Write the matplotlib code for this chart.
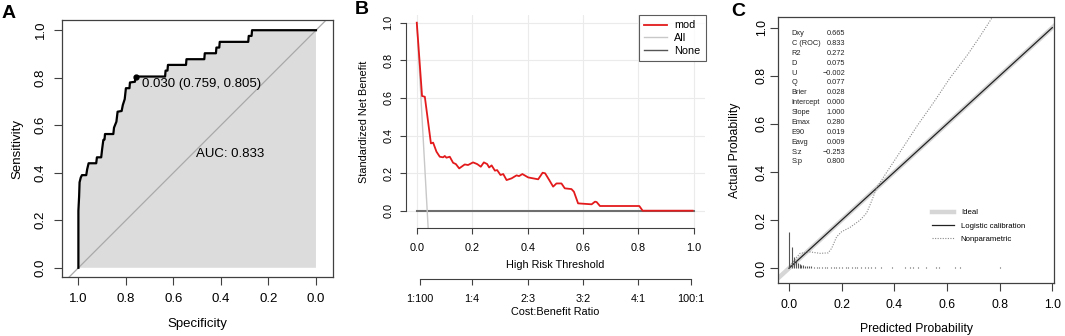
import numpy as np
import matplotlib.pyplot as plt
from matplotlib.lines import Line2D

plt.rcParams['font.family'] = ['Liberation Sans', 'DejaVu Sans']

## Panel A: ROC curve (vertices of the step curve)
roc_spec = [1.0, 1.0, 0.997, 0.995, 0.99, 0.985, 0.967, 0.963, 0.957, 0.925, 0.922, 0.904,
            0.9, 0.895, 0.89, 0.888, 0.853, 0.85, 0.84, 0.835, 0.818, 0.813, 0.805, 0.80,
            0.785, 0.783, 0.762, 0.759, 0.635, 0.633, 0.625, 0.623, 0.547, 0.545, 0.47,
            0.468, 0.421, 0.419, 0.407, 0.405, 0.285, 0.283, 0.271, 0.269, 0.0]
roc_sens = [0.0, 0.24, 0.30, 0.36, 0.38, 0.39, 0.39, 0.415, 0.44, 0.44, 0.465, 0.465,
            0.50, 0.538, 0.54, 0.563, 0.563, 0.59, 0.615, 0.657, 0.66, 0.685, 0.71, 0.756,
            0.756, 0.78, 0.783, 0.805, 0.805, 0.83, 0.83, 0.854, 0.854, 0.878, 0.878,
            0.903, 0.903, 0.927, 0.927, 0.951, 0.951, 0.976, 0.976, 1.0, 1.0]
best_thr, best_spec, best_sens = 0.030, 0.759, 0.805
auc = 0.833

## Panel B: decision curve
dca_thr = [0.0, 0.019, 0.029, 0.051, 0.059, 0.071, 0.083, 0.095, 0.101, 0.107, 0.119,
           0.131, 0.141, 0.153, 0.173, 0.185, 0.203, 0.218, 0.231, 0.242, 0.254, 0.261,
           0.27, 0.282, 0.29, 0.302, 0.312, 0.324, 0.342, 0.36, 0.369, 0.381, 0.402,
           0.438, 0.454, 0.463, 0.478, 0.492, 0.504, 0.522, 0.534, 0.558, 0.567, 0.582,
           0.631, 0.643, 0.649, 0.661, 0.803, 0.815, 0.995]
dca_mod = [1.0, 0.61, 0.606, 0.358, 0.362, 0.314, 0.287, 0.284, 0.291, 0.282, 0.287,
           0.255, 0.248, 0.225, 0.246, 0.243, 0.257, 0.248, 0.234, 0.257, 0.248, 0.230,
           0.241, 0.213, 0.216, 0.19, 0.195, 0.163, 0.172, 0.188, 0.184, 0.195, 0.177,
           0.167, 0.202, 0.199, 0.163, 0.128, 0.145, 0.145, 0.119, 0.115, 0.101, 0.039,
           0.034, 0.048, 0.046, 0.025, 0.025, 0.0, 0.0]
dca_all_thr = [0.0, 0.041]
dca_all = [1.0, -0.092]
cb_pos = [0.0099, 0.2, 0.4, 0.6, 0.8, 0.9901]
cb_labels = ['1:100', '1:4', '2:3', '3:2', '4:1', '100:1']

## Panel C: calibration
np_x = [0.0, 0.02, 0.042, 0.08, 0.118, 0.149, 0.162, 0.181, 0.2, 0.232, 0.27, 0.295,
        0.314, 0.333, 0.37, 0.42, 0.485, 0.55, 0.611, 0.68, 0.725, 0.8]
np_y = [0.0, 0.035, 0.062, 0.068, 0.062, 0.064, 0.083, 0.131, 0.152, 0.17, 0.2, 0.23,
        0.28, 0.335, 0.397, 0.48, 0.589, 0.69, 0.79, 0.89, 0.963, 1.09]
rug_x = [0.001, 0.01, 0.019, 0.026, 0.033, 0.04, 0.047, 0.054, 0.061, 0.068, 0.075, 0.085,
         0.095, 0.105, 0.115, 0.125, 0.135, 0.145, 0.16, 0.17, 0.18, 0.19, 0.2, 0.215,
         0.225, 0.24, 0.25, 0.26, 0.275, 0.29, 0.3, 0.31, 0.325, 0.35, 0.39, 0.44, 0.46,
         0.47, 0.49, 0.52, 0.56, 0.57, 0.63, 0.65, 0.8]
rug_h = [0.152, 0.087, 0.045, 0.03, 0.022, 0.016, 0.013, 0.012, 0.01, 0.009, 0.008, 0.008,
         0.007, 0.007, 0.006, 0.006, 0.006, 0.006, 0.006, 0.006, 0.006, 0.006, 0.006, 0.006,
         0.006, 0.006, 0.006, 0.006, 0.006, 0.006, 0.006, 0.006, 0.006, 0.006, 0.006, 0.006,
         0.006, 0.006, 0.006, 0.006, 0.006, 0.006, 0.006, 0.006, 0.006]
stat_names = ['Dxy', 'C (ROC)', 'R2', 'D', 'U', 'Q', 'Brier', 'Intercept', 'Slope',
              'Emax', 'E90', 'Eavg', 'S:z', 'S:p']
stat_vals = [0.665, 0.833, 0.272, 0.075, -0.002, 0.077, 0.028, 0.000, 1.000,
             0.280, 0.019, 0.009, -0.253, 0.800]

W, H = 1065, 336
fig = plt.figure(figsize=(W / 100, H / 100), dpi=100)


def px_axes(l, t, r, b):
    return fig.add_axes([l / W, 1 - b / H, (r - l) / W, (b - t) / H])


axcol = '#404040'
ticks01 = [0, 0.2, 0.4, 0.6, 0.8, 1.0]

# ---------- A ----------
ax = px_axes(62, 20, 333.3, 277.3)
ax.fill(roc_spec + [0.0, 1.0], roc_sens + [0.0, 0.0], color='#dcdcdc', lw=0)
ax.axline((1, 0), (0, 1), color='#a9a9a9', lw=0.9)
ax.plot(roc_spec, roc_sens, color='black', lw=1.6)
ax.plot(best_spec, best_sens, 'o', color='black', ms=3.5)
ax.text(0.733, 0.773, f'{best_thr:.3f} ({best_spec:.3f}, {best_sens:.3f})',
        fontsize=9.5, va='center', ha='left')
ax.text(0.503, 0.477, f'AUC: {auc:.3f}', fontsize=9.5, va='center', ha='left')
ax.set_xlim(1.069, -0.073)
ax.set_ylim(-0.040, 1.043)
ax.set_xticks(ticks01)
ax.set_xticklabels([f'{t:.1f}' for t in ticks01])
ax.set_yticks(ticks01)
ax.set_yticklabels([f'{t:.1f}' for t in ticks01])
ax.set_xlabel('Specificity', fontsize=9.5, labelpad=10)
ax.set_ylabel('Sensitivity', fontsize=9.5, labelpad=8)
ax.tick_params(length=6, width=0.8, color=axcol, labelsize=9.5, pad=5)
ax.tick_params(axis='y', labelrotation=90)
for lbl in ax.get_yticklabels():
    lbl.set_va('center')
for s in ax.spines.values():
    s.set_color(axcol)
    s.set_linewidth(0.9)
fig.text(2 / W, 1 - 13 / H, 'A', fontsize=14, fontweight='bold', va='center')

# ---------- B ----------
ax = px_axes(405.7, 14.8, 705, 228)
ax.grid(True, color='#ebebeb', lw=0.8)
ax.set_axisbelow(True)
ax.plot([0, 1], [0, 0], color='#6e6e6e', lw=1.5)
ax.plot(dca_all_thr, dca_all, color='#c8c8c8', lw=1.0)
ax.plot(dca_thr, dca_mod, color='#e31a1c', lw=1.3)
ax.set_xlim(-0.04, 1.04)
ax.set_ylim(-0.092, 1.042)
ax.set_xticks(ticks01)
ax.set_xticklabels([f'{t:.1f}' for t in ticks01])
ax.set_yticks(ticks01)
ax.set_yticklabels([f'{t:.1f}' for t in ticks01])
ax.spines['top'].set_visible(False)
ax.spines['right'].set_visible(False)
ax.spines['left'].set_bounds(0, 1)
ax.spines['bottom'].set_bounds(0, 1)
for s in ('left', 'bottom'):
    ax.spines[s].set_color(axcol)
    ax.spines[s].set_linewidth(0.8)
ax.tick_params(length=4, width=0.8, color=axcol, labelsize=7.8, pad=5)
ax.tick_params(axis='x', pad=7)
ax.tick_params(axis='y', labelrotation=90)
for lbl in ax.get_yticklabels():
    lbl.set_va('center')
ax.set_xlabel('High Risk Threshold', fontsize=7.8, labelpad=5)
ax.set_ylabel('Standardized Net Benefit', fontsize=7.8, labelpad=10)
handles = [Line2D([], [], color='#e31a1c', lw=1.3),
           Line2D([], [], color='#c8c8c8', lw=1.0),
           Line2D([], [], color='#555555', lw=1.0)]
leg = fig.legend(handles, ['mod', 'All', 'None'], loc='upper right',
                 bbox_to_anchor=(706 / W, 1 - 15 / H), fontsize=7.8, frameon=True,
                 fancybox=False, edgecolor='#333333', handlelength=2.1,
                 handletextpad=0.7, labelspacing=0.25, borderpad=0.5, borderaxespad=0)
leg.get_frame().set_linewidth(0.8)

ax2 = px_axes(405.7, 278, 705, 278.5)
ax2.set_xlim(-0.04, 1.04)
ax2.set_yticks([])
ax2.patch.set_visible(False)
for s in ('top', 'left', 'right'):
    ax2.spines[s].set_visible(False)
ax2.spines['bottom'].set_bounds(cb_pos[0], cb_pos[-1])
ax2.spines['bottom'].set_color(axcol)
ax2.spines['bottom'].set_linewidth(0.8)
ax2.set_xticks(cb_pos)
ax2.set_xticklabels(cb_labels)
ax2.tick_params(length=4, width=0.8, color=axcol, labelsize=7.8, pad=7)
ax2.set_xlabel('Cost:Benefit Ratio', fontsize=7.8, labelpad=2)
fig.text(355 / W, 1 - 9 / H, 'B', fontsize=14, fontweight='bold', va='center')

# ---------- C ----------
narrow = ['Liberation Sans Narrow', 'Liberation Sans', 'DejaVu Sans']
ax = px_axes(778.3, 17.3, 1054, 282.7)
ax.axline((0, 0), (1, 1), color='#d6d6d6', lw=3.2)
ax.plot([0, 1], [0, 1], color='#222222', lw=0.9)
ax.plot(np_x, np_y, color='#8a8a8a', lw=0.8, ls=(0, (1, 1.3)))
ax.vlines(rug_x, 0, rug_h, color='#555555', lw=0.8)
ax.set_xlim(-0.0406, 1.0065)
ax.set_ylim(-0.06, 1.043)
ax.set_xticks(ticks01)
ax.set_xticklabels([f'{t:.1f}' for t in ticks01], family=narrow)
ax.set_yticks(ticks01)
ax.set_yticklabels([f'{t:.1f}' for t in ticks01], family=narrow)
ax.tick_params(length=5.5, width=0.8, color=axcol, labelsize=8.8, pad=6)
ax.tick_params(axis='y', labelrotation=90, pad=2)
for lbl in ax.get_yticklabels():
    lbl.set_va('center')
for s in ax.spines.values():
    s.set_color(axcol)
    s.set_linewidth(0.9)
ax.set_xlabel('Predicted Probability', fontsize=8.8, family=narrow, labelpad=9)
ax.set_ylabel('Actual Probability', fontsize=8.8, family=narrow, labelpad=11)
for i, (nm, v) in enumerate(zip(stat_names, stat_vals)):
    yy = 1 - (33.5 + i * 9.88) / H
    fig.text(791.7 / W, yy, nm, fontsize=5.3, family=narrow, va='center', color='#222222')
    fig.text(845 / W, yy, f'{v:.3f}'.replace('-', '\u2212'), fontsize=5.3, family=narrow,
             va='center', ha='right', color='#222222')
handles = [Line2D([], [], color='#d6d6d6', lw=3.2),
           Line2D([], [], color='#222222', lw=0.9),
           Line2D([], [], color='#8a8a8a', lw=0.8, ls=(0, (1, 1.3)))]
fig.legend(handles, ['Ideal', 'Logistic calibration', 'Nonparametric'], loc='upper left',
           bbox_to_anchor=(932 / W, 1 - 209 / H), frameon=False,
           prop={'family': narrow, 'size': 5.6}, handlelength=2.8, handletextpad=0.9,
           labelspacing=0.75, borderpad=0, borderaxespad=0)
fig.text(731 / W, 1 - 11 / H, 'C', fontsize=14, fontweight='bold', va='center')

fig.savefig('out.png', dpi=100)
